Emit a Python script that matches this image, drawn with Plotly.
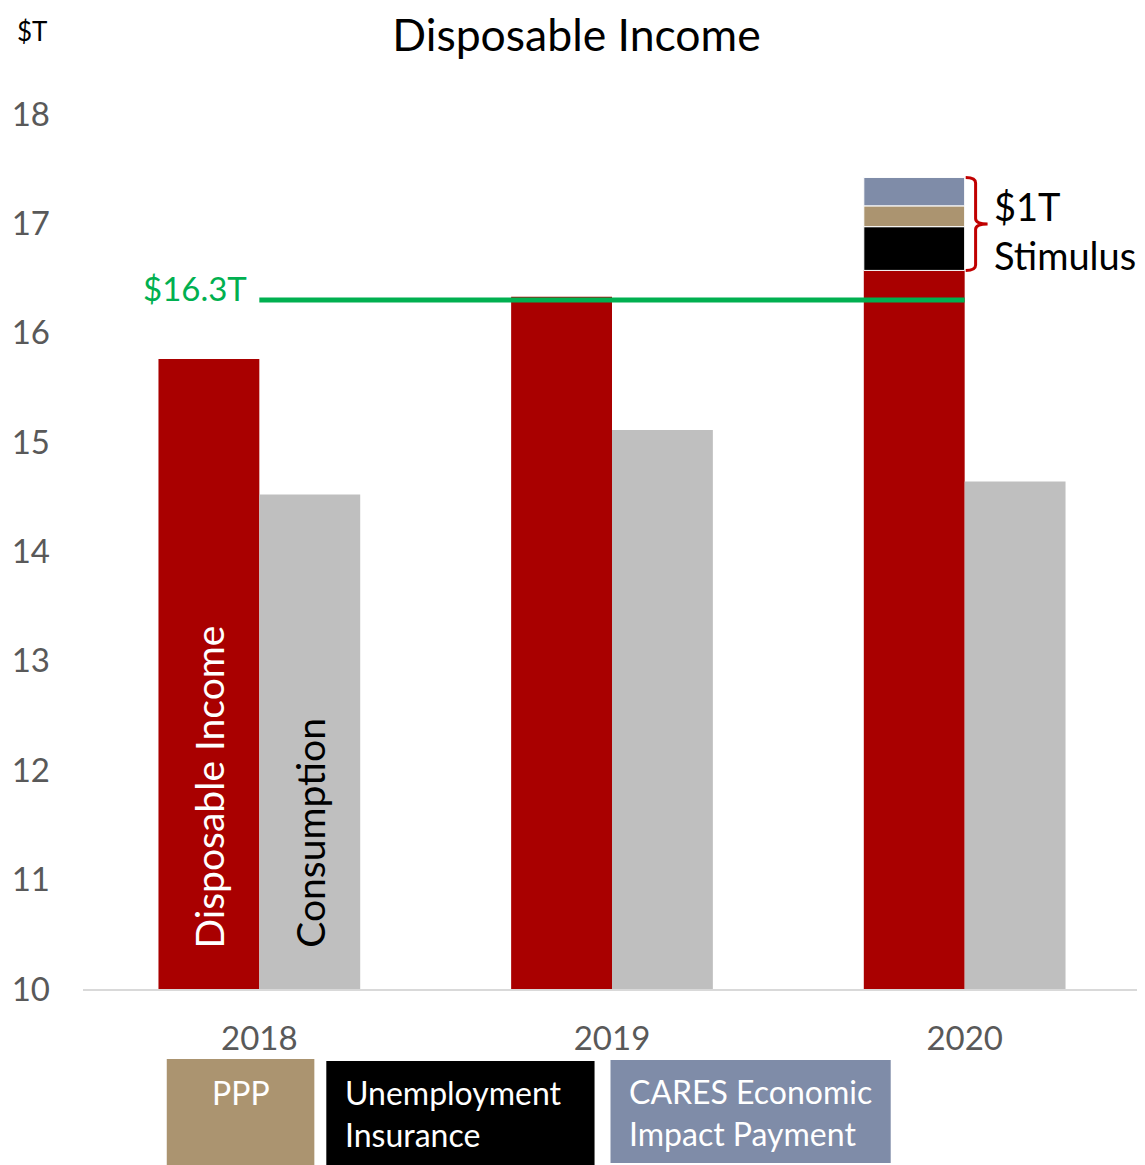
import plotly.graph_objects as go

# data ($ trillions)
years = ['2018', '2019', '2020']
disposable_income = [15.76, 16.33, 16.57]
consumption = [14.52, 15.11, 14.64]

stimulus_names = ['Unemployment Insurance', 'PPP', 'CARES Economic Impact Payment']
stimulus_values = [0.40, 0.19, 0.26]
stimulus_colors = ['#000000', '#AB9470', '#7F8CA8']

threshold = 16.3
y_ticks = [10, 11, 12, 13, 14, 15, 16, 17, 18]

FONT = 'Lato'
RED = '#A90000'
GREY = '#BFBFBF'
GREEN = '#00B050'

# page geometry (pixels); the html body adds an 8px margin
OFF = 8
X_FIX = 3
W, H = 1145 - OFF, 1165 - OFF
ML, MR, MT, MB = 80 - OFF, 4, 60 - OFF, 176
PW, PH = W - ML - MR, H - MT - MB
PX_PER_UNIT = 109.375
BAR_W = 0.286


def px_x(p):
    return (p - OFF - X_FIX - ML) / PW


def px_y(p):
    return (MT + PH - (p - OFF)) / PH


x_pos = list(range(len(years)))

fig = go.Figure()

fig.add_trace(go.Bar(
    x=x_pos, y=disposable_income, width=BAR_W, offset=-BAR_W,
    marker=dict(color=RED, line=dict(width=0)), name='Disposable Income',
    showlegend=False
))
fig.add_trace(go.Bar(
    x=x_pos, y=consumption, width=BAR_W, offset=0,
    marker=dict(color=GREY, line=dict(width=0)), name='Consumption',
    showlegend=False
))

# stimulus stacked on top of 2020 disposable income
base = disposable_income[-1]
for name, val, col in zip(stimulus_names, stimulus_values, stimulus_colors):
    fig.add_trace(go.Bar(
        x=[x_pos[-1]], y=[val], base=[base], width=BAR_W, offset=-BAR_W,
        marker=dict(color=col, line=dict(color='white', width=1)),
        name=name, showlegend=False
    ))
    base += val
stim_top = base
stim_bottom = disposable_income[-1]

# $16.3T reference line
fig.add_trace(go.Scatter(
    x=[x_pos[0], x_pos[-1]], y=[threshold, threshold], mode='lines',
    line=dict(color=GREEN, width=5), showlegend=False, hoverinfo='skip'
))

# brace next to stimulus
bx0, bx1, bx2 = x_pos[-1] + 0.003, x_pos[-1] + 0.031, x_pos[-1] + 0.065
mid = (stim_top + stim_bottom) / 2
r = 0.05
path = (f'M {bx0},{stim_top} Q {bx1},{stim_top} {bx1},{stim_top - r} '
        f'L {bx1},{mid + r} Q {bx1},{mid} {bx2},{mid} '
        f'Q {bx1},{mid} {bx1},{mid - r} '
        f'L {bx1},{stim_bottom + r} Q {bx1},{stim_bottom} {bx0},{stim_bottom}')
fig.add_shape(type='path', path=path, xref='x', yref='y',
              line=dict(color='#C00000', width=3))

annotations = [
    dict(text='$T', xref='paper', yref='paper', x=px_x(15), y=px_y(31),
         xanchor='left', yanchor='middle', showarrow=False,
         font=dict(family=FONT, size=26, color='#000000')),
    dict(text=f'${threshold}T', xref='paper', yref='paper', x=px_x(249), y=px_y(288),
         xanchor='right', yanchor='middle', showarrow=False,
         font=dict(family=FONT, size=33, color=GREEN)),
    dict(text='$1T<br>Stimulus', xref='paper', yref='paper', x=px_x(995), y=px_y(230),
         xanchor='left', yanchor='middle', align='left', showarrow=False,
         font=dict(family=FONT, size=38, color='#000000')),
    dict(text='Disposable Income', xref='x', yref='paper', x=x_pos[0] - BAR_W / 2,
         y=px_y(950), xanchor='center', yanchor='bottom', textangle=-90,
         showarrow=False, font=dict(family=FONT, size=39, color='white')),
    dict(text='Consumption', xref='x', yref='paper', x=x_pos[0] + BAR_W / 2,
         y=px_y(950), xanchor='center', yanchor='bottom', textangle=-90,
         showarrow=False, font=dict(family=FONT, size=39, color='black')),
]

# legend boxes below the axis
boxes = [
    ('PPP', stimulus_colors[1], 167, 315, 1059, 1165, 'center'),
    ('Unemployment<br>Insurance', stimulus_colors[0], 327, 596, 1061, 1165, 'left'),
    ('CARES Economic<br>Impact Payment', stimulus_colors[2], 612, 893, 1060, 1163, 'left'),
]
for label, col, x0, x1, y0, y1, al in boxes:
    fig.add_shape(type='rect', xref='paper', yref='paper',
                  x0=px_x(x0), x1=px_x(x1), y0=px_y(y1), y1=px_y(y0),
                  fillcolor=col, line=dict(width=0), layer='above')
    if al == 'center':
        annotations.append(dict(text=label, xref='paper', yref='paper',
                                x=px_x((x0 + x1) / 2), y=px_y(y0 + 12),
                                xanchor='center', yanchor='top', showarrow=False,
                                font=dict(family=FONT, size=32, color='white')))
    else:
        annotations.append(dict(text=label, xref='paper', yref='paper',
                                x=px_x(x0 + 17), y=px_y(y0 + 10),
                                xanchor='left', yanchor='top', align='left',
                                showarrow=False,
                                font=dict(family=FONT, size=32, color='white')))

fig.update_layout(
    width=W, height=H,
    margin=dict(l=ML, r=MR, t=MT, b=MB, pad=0),
    paper_bgcolor='white', plot_bgcolor='white',
    barmode='overlay',
    title=dict(text='Disposable Income', x=0.5, xref='container', xanchor='center',
               y=1 - 27 / H, yanchor='middle',
               font=dict(family=FONT, size=44.5, color='#000000')),
    xaxis=dict(range=[-0.5, len(years) - 0.5], tickvals=x_pos, ticktext=years,
               showgrid=False, zeroline=False, showline=True,
               linecolor='#D9D9D9', linewidth=2, ticks='',
               ticklabelstandoff=19,
               tickfont=dict(family=FONT, size=33, color='#595959')),
    yaxis=dict(range=[10, 10 + PH / PX_PER_UNIT], tickvals=y_ticks,
               showgrid=False, zeroline=False, showline=False, ticks='',
               ticklabelstandoff=32,
               tickfont=dict(family=FONT, size=33, color='#595959')),
    annotations=annotations,
    font=dict(family=FONT),
)

fig.write_html('out.html')
